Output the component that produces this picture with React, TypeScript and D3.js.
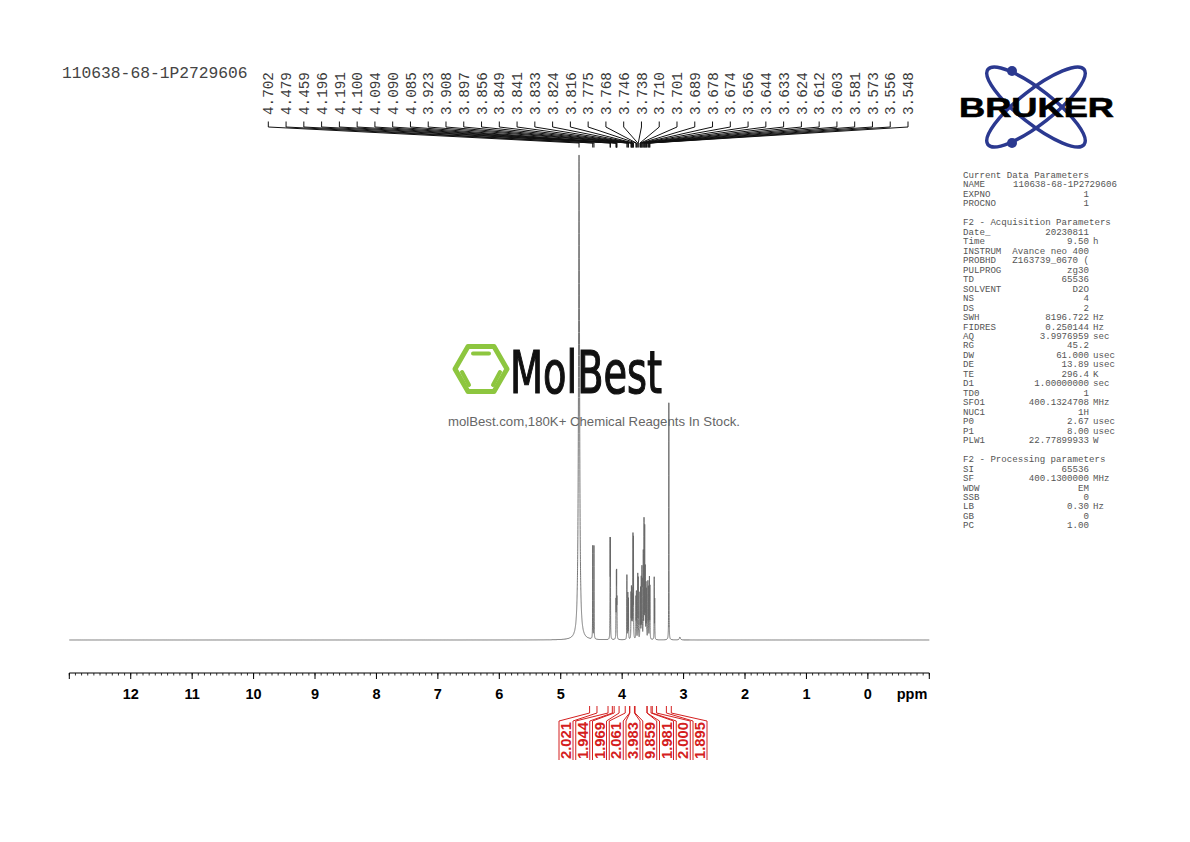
import React from "react";
import * as d3 from "d3";

// ---------------- DATA ----------------
const sampleName = "110638-68-1P2729606";

const peakLabels = [
  "4.702", "4.479", "4.459", "4.196", "4.191", "4.100", "4.094", "4.090", "4.085",
  "3.923", "3.908", "3.897", "3.856", "3.849", "3.841", "3.833", "3.824", "3.816",
  "3.775", "3.768", "3.746", "3.738", "3.710", "3.701", "3.689", "3.678", "3.674",
  "3.656", "3.644", "3.633", "3.624", "3.612", "3.603", "3.581", "3.573", "3.556", "3.548",
];

// spectrum lines (ppm, relative height where the tallest = 100, half-width in ppm)
const peakPpm = [
  4.702, 4.479, 4.459, 4.196, 4.191, 4.100, 4.094, 4.090, 4.085,
  3.923, 3.908, 3.897, 3.856, 3.849, 3.841, 3.833, 3.824, 3.816,
  3.775, 3.768, 3.746, 3.738, 3.710, 3.701, 3.689, 3.678, 3.674,
  3.656, 3.644, 3.633, 3.624, 3.612, 3.603, 3.581, 3.573, 3.556, 3.548,
  3.478, 3.470, 3.240, 3.060,
];
const peakHeight = [
  100, 19.4, 19.4, 19.0, 19.0, 7.2, 11.6, 11.6, 7.2,
  13.4, 9.4, 8.4, 9.0, 10.0, 9.6, 8.0, 20.6, 20.2,
  8.4, 9.4, 13.0, 12.2, 9.2, 10.2, 12.4, 13.0, 10.0,
  17.6, 24.0, 22.6, 14.0, 11.0, 10.0, 11.6, 10.4, 12.4, 10.6,
  12.6, 8.0, 48.9, 0.6,
];
const peakWidth = [
  0.010, 0.0018, 0.0018, 0.0018, 0.0018, 0.0018, 0.0018, 0.0018, 0.0018,
  0.0018, 0.0018, 0.0018, 0.0018, 0.0018, 0.0018, 0.0018, 0.0018, 0.0018,
  0.0018, 0.0018, 0.0018, 0.0018, 0.0018, 0.0018, 0.0018, 0.0018, 0.0018,
  0.0018, 0.0018, 0.0018, 0.0018, 0.0018, 0.0018, 0.0018, 0.0018, 0.0018, 0.0018,
  0.0018, 0.0018, 0.0018, 0.010,
];

const integralValues = ["2.021", "1.944", "1.969", "2.061", "3.983", "9.859", "1.981", "2.000", "1.895"];
const integralFrom = [4.53, 4.23, 4.13, 3.95, 3.875, 3.79, 3.595, 3.51, 3.28];
const integralTo = [4.41, 4.16, 4.05, 3.88, 3.80, 3.595, 3.53, 3.44, 3.20];

const axisLabels = [12, 11, 10, 9, 8, 7, 6, 5, 4, 3, 2, 1, 0];

const paramNames = [
  "Current Data Parameters", "NAME", "EXPNO", "PROCNO", "",
  "F2 - Acquisition Parameters", "Date_", "Time", "INSTRUM", "PROBHD", "PULPROG", "TD",
  "SOLVENT", "NS", "DS", "SWH", "FIDRES", "AQ", "RG", "DW", "DE", "TE", "D1", "TD0",
  "SFO1", "NUC1", "P0", "P1", "PLW1", "",
  "F2 - Processing parameters", "SI", "SF", "WDW", "SSB", "LB", "GB", "PC",
];
const paramValues = [
  "", "110638-68-1P2729606", "1", "1", "",
  "", "20230811", "9.50", "Avance neo 400", "Z163739_0670 (", "zg30", "65536",
  "D2O", "4", "2", "8196.722", "0.250144", "3.9976959", "45.2", "61.000", "13.89", "296.4", "1.00000000", "1",
  "400.1324708", "1H", "2.67", "8.00", "22.77899933", "",
  "", "65536", "400.1300000", "EM", "0", "0.30", "0", "1.00",
];
const paramUnits = [
  "", "", "", "", "",
  "", "", "h", "", "", "", "",
  "", "", "", "Hz", "Hz", "sec", "", "usec", "usec", "K", "sec", "",
  "MHz", "", "usec", "usec", "W", "",
  "", "", "MHz", "", "", "Hz", "", "",
];

// ---------------- CHART ----------------
const W = 1190;
const H = 842;

export default function App() {
  const x = d3.scaleLinear().domain([13, -1]).range([69.3, 929.3]);
  const y = d3.scaleLinear().domain([0, 100]).range([640, 155]);

  const grid = [
    ...d3.range(13, 5.2, -0.01),
    ...d3.range(5.2, 2.9, -0.0004),
    ...d3.range(2.9, -1.0001, -0.01),
  ];
  const spec = grid.map((p) => {
    let v = 0;
    for (let i = 0; i < peakPpm.length; i++) {
      const d = (p - peakPpm[i]) / peakWidth[i];
      v += peakHeight[i] / (1 + d * d);
    }
    return { p, v };
  });
  const line = d3
    .line<{ p: number; v: number }>()
    .x((d) => x(d.p))
    .y((d) => y(d.v));

  const minorTicks = d3.range(-10, 131, 1).map((k) => k / 10);
  const majorTicks = d3.range(-1, 14, 1);

  const labelX = d3.scaleLinear().domain([0, peakLabels.length - 1]).range([268.3, 908]);
  const intX = d3.scaleLinear().domain([0, integralValues.length - 1]).range([566, 700]);

  const mono = "'Liberation Mono', 'DejaVu Sans Mono', monospace";
  const sans = "'Liberation Sans', Arial, Helvetica, sans-serif";
  const red = "#d42020";

  // hexagon for watermark
  const hx = 481, hy = 369, hr = 26;
  const hexPts = d3.range(6).map((k) => {
    const a = (Math.PI / 3) * k;
    return [hx + hr * Math.cos(a), hy + hr * Math.sin(a)];
  });

  const pBase = 178;
  const pStep = 9.47;

  return (
    <svg width={W} height={H} viewBox={`0 0 ${W} ${H}`} style={{ position: "absolute", left: 0, top: 0, background: "#fff" }}>
      <rect x={0} y={0} width={W} height={H} fill="#fff" />

      {/* title */}
      <text x={62} y={78} fontFamily={mono} fontSize={16.3} fill="#444">{sampleName}</text>

      {/* watermark */}
      <g>
        <polygon points={hexPts.map((p) => p.join(",")).join(" ")} fill="none" stroke="#8dc63f" strokeWidth={5} strokeLinejoin="round" />
        <line x1={473} y1={353.5} x2={489} y2={353.5} stroke="#8dc63f" strokeWidth={4} strokeLinecap="round" />
        <line x1={462} y1={372} x2={469} y2={385} stroke="#8dc63f" strokeWidth={4} strokeLinecap="round" />
        <line x1={493} y1={385} x2={500} y2={372} stroke="#8dc63f" strokeWidth={4} strokeLinecap="round" />
        <text x={510} y={393} fontFamily="'DejaVu Sans Condensed', 'Liberation Sans Narrow', 'DejaVu Sans', sans-serif" fontSize={58} fill="#111" stroke="#111" strokeWidth={1.2} textLength={152} lengthAdjust="spacingAndGlyphs">MolBest</text>
        <text x={448} y={426} fontFamily={sans} fontSize={13} fill="#666" textLength={292} lengthAdjust="spacingAndGlyphs">molBest.com,180K+ Chemical Reagents In Stock.</text>
      </g>

      {/* spectrum */}
      <path d={line(spec) || ""} fill="none" stroke="#666" strokeWidth={0.9} />

      {/* peak labels */}
      <g>
        {peakLabels.map((lab, i) => {
          const lx = labelX(i);
          const px = x(peakPpm[i]);
          return (
            <g key={lab + i}>
              <text transform={`translate(${lx},115) rotate(-90)`} dy="0.36em" fontFamily={mono} fontSize={14.3} fill="#3a3a3a">{lab}</text>
              <path d={`M${lx},121.5 L${lx},127 L${px},143 L${px},147.5`} fill="none" stroke="#111" strokeWidth={1} />
            </g>
          );
        })}
      </g>

      {/* x axis */}
      <g>
        <line x1={x(13)} x2={x(-1)} y1={673} y2={673} stroke="#000" strokeWidth={1} />
        {minorTicks.map((t) => (
          <line key={"m" + t} x1={x(t)} x2={x(t)} y1={673} y2={675.5} stroke="#000" strokeWidth={0.8} />
        ))}
        {majorTicks.map((t) => (
          <line key={"M" + t} x1={x(t)} x2={x(t)} y1={673} y2={679} stroke="#000" strokeWidth={1} />
        ))}
        {axisLabels.map((t) => (
          <text key={"l" + t} x={x(t)} y={698.5} textAnchor="middle" fontFamily={sans} fontWeight="bold" fontSize={14.5} fill="#000">{t}</text>
        ))}
        <text x={912} y={698.5} textAnchor="middle" fontFamily={sans} fontWeight="bold" fontSize={14.5} fill="#000">ppm</text>
      </g>

      {/* integrals */}
      <g>
        {integralValues.map((v, i) => {
          const lx = intX(i);
          const a = x(integralFrom[i]);
          const b = x(integralTo[i]);
          return (
            <g key={"int" + i}>
              <path d={`M${lx - 7},760 L${lx - 7},721 L${a},713 L${a},706`} fill="none" stroke={red} strokeWidth={1} />
              <path d={`M${lx + 7},760 L${lx + 7},721 L${b},713 L${b},706`} fill="none" stroke={red} strokeWidth={1} />
              <text transform={`translate(${lx},759) rotate(-90)`} dy="0.36em" fontFamily={sans} fontWeight="bold" fontSize={14} fill={red} textLength={37} lengthAdjust="spacingAndGlyphs">{v}</text>
            </g>
          );
        })}
      </g>

      {/* Bruker logo */}
      <g>
        <ellipse cx={1036} cy={107} rx={61} ry={17} fill="none" stroke="#2b3990" strokeWidth={3.5} transform="rotate(38,1036,107)" />
        <ellipse cx={1036} cy={107} rx={61} ry={17} fill="none" stroke="#2b3990" strokeWidth={3.5} transform="rotate(-38,1036,107)" />
        <circle cx={1012} cy={71} r={5} fill="#2b3990" />
        <circle cx={1012} cy={143} r={5} fill="#2b3990" />
        <text x={959} y={117} fontFamily={sans} fontWeight={900} fontSize={28} fill="#000" stroke="#000" strokeWidth={0.6} textLength={155} lengthAdjust="spacingAndGlyphs">BRUKER</text>
      </g>

      {/* parameters */}
      <g fontFamily={mono} fontSize={9.13} fill="#555">
        {paramNames.map((n, i) => {
          const yy = pBase + i * pStep;
          return (
            <g key={"p" + i}>
              {n && <text x={963} y={yy}>{n}</text>}
              {paramValues[i] && (
                <text x={i === 1 ? 1117 : 1089} y={yy} textAnchor="end">{paramValues[i]}</text>
              )}
              {paramUnits[i] && <text x={1093} y={yy}>{paramUnits[i]}</text>}
            </g>
          );
        })}
      </g>
    </svg>
  );
}
